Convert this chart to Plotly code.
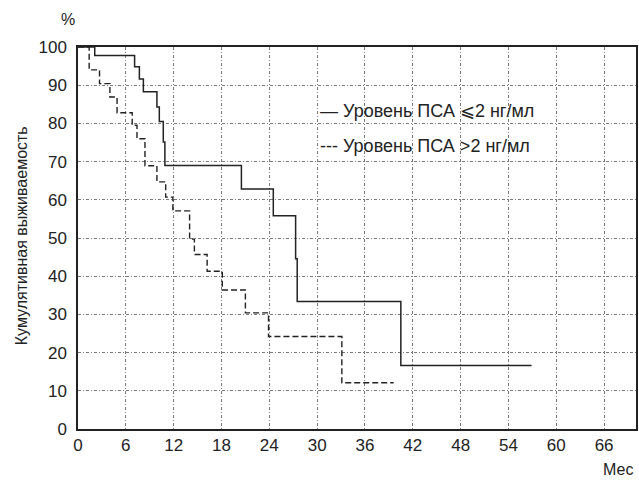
import plotly.graph_objects as go

# Kaplan-Meier step data (months, cumulative survival %)
t_low = [0, 2.1, 7.1, 7.7, 8.2, 9.9, 10.2, 10.7, 10.9, 20.5, 24.5, 27.3, 27.5, 40.5, 56.9]
s_low = [100, 97.8, 94.8, 91.6, 88.3, 84.3, 80.5, 75.1, 69.0, 62.8, 55.8, 44.6, 33.4, 16.6, 16.6]

t_high = [0, 1.4, 2.7, 4.0, 4.9, 6.8, 7.4, 8.4, 9.9, 11.0, 11.9, 14.0, 14.6, 16.2, 18.1, 21.0, 23.9, 33.1, 39.6]
s_high = [100, 94.0, 90.4, 86.9, 82.8, 79.5, 76.0, 68.9, 64.7, 60.7, 57.1, 49.7, 45.7, 41.3, 36.4, 30.4, 24.2, 12.1, 12.1]

x_ticks = [0, 6, 12, 18, 24, 30, 36, 42, 48, 54, 60, 66]
y_ticks = [0, 10, 20, 30, 40, 50, 60, 70, 80, 90, 100]

legend_low = "— Уровень ПСА ⩽2 нг/мл"
legend_high = "--- Уровень ПСА >2 нг/мл"
y_title = "Кумулятивная выживаемость"
x_title = "Мес"

FONT = "Liberation Sans, Arial, sans-serif"
GRID = "#7a7a7a"

fig = go.Figure()
fig.add_trace(go.Scatter(x=t_high, y=s_high, mode="lines", line_shape="hv",
                         line=dict(color="#222", width=1.4, dash="6px,3px"),
                         showlegend=False, hoverinfo="skip"))
fig.add_trace(go.Scatter(x=t_low, y=s_low, mode="lines", line_shape="hv",
                         line=dict(color="#222", width=1.5),
                         showlegend=False, hoverinfo="skip"))

# white box behind the legend text
fig.add_shape(type="rect", xref="x", yref="y", x0=30.2, x1=59.6, y0=68.5, y1=88.2,
              fillcolor="white", line=dict(width=0), layer="below")

fig.add_annotation(x=30.1, y=83.2, xref="x", yref="y", text=legend_low, showarrow=False,
                   xanchor="left", yanchor="middle", font=dict(family=FONT, size=18, color="#222"))
fig.add_annotation(x=30.1, y=74.0, xref="x", yref="y", text=legend_high, showarrow=False,
                   xanchor="left", yanchor="middle", font=dict(family=FONT, size=18, color="#222"))

fig.add_annotation(x=68, y=19, xref="paper", yref="paper", text="%", showarrow=False,
                   xanchor="center", yanchor="middle", font=dict(family=FONT, size=16, color="#222"))
fig.add_annotation(x=603, y=469, xref="paper", yref="paper", text=x_title, showarrow=False,
                   xanchor="left", yanchor="middle", font=dict(family=FONT, size=16, color="#222"))
fig.add_annotation(x=21, y=236, xref="paper", yref="paper", text=y_title, showarrow=False,
                   textangle=-90, xanchor="center", yanchor="middle",
                   font=dict(family=FONT, size=16, color="#222"))

# convert pixel annotations to paper coordinates
W, H = 639, 480
L, R, T, B = 78, 1, 47, 51
pw, ph = W - L - R, H - T - B
for a in fig.layout.annotations:
    if a.xref == "paper":
        a.x = (a.x - L) / pw
        a.y = 1 - (a.y - T) / ph

fig.update_layout(
    width=W, height=H,
    margin=dict(l=L, r=R, t=T, b=B, pad=0),
    paper_bgcolor="white", plot_bgcolor="white",
    font=dict(family=FONT, size=17, color="#222"),
)
fig.update_xaxes(range=[0, 70], tickvals=x_ticks, ticktext=[str(v) for v in x_ticks],
                 showgrid=True, gridcolor=GRID, gridwidth=1, griddash="3px,2px,1px,2px",
                 showline=True, linecolor="#222", linewidth=1.5, mirror=True,
                 ticks="", zeroline=False, tickfont=dict(size=17), ticklabelstandoff=0)
fig.update_yaxes(range=[0, 100], tickvals=y_ticks, ticktext=[str(v) for v in y_ticks],
                 showgrid=True, gridcolor=GRID, gridwidth=1, griddash="3px,2px,1px,2px",
                 showline=True, linecolor="#222", linewidth=1.5, mirror=True,
                 ticks="", zeroline=False, tickfont=dict(size=17), ticklabelstandoff=6)

fig.write_html("out.html")
